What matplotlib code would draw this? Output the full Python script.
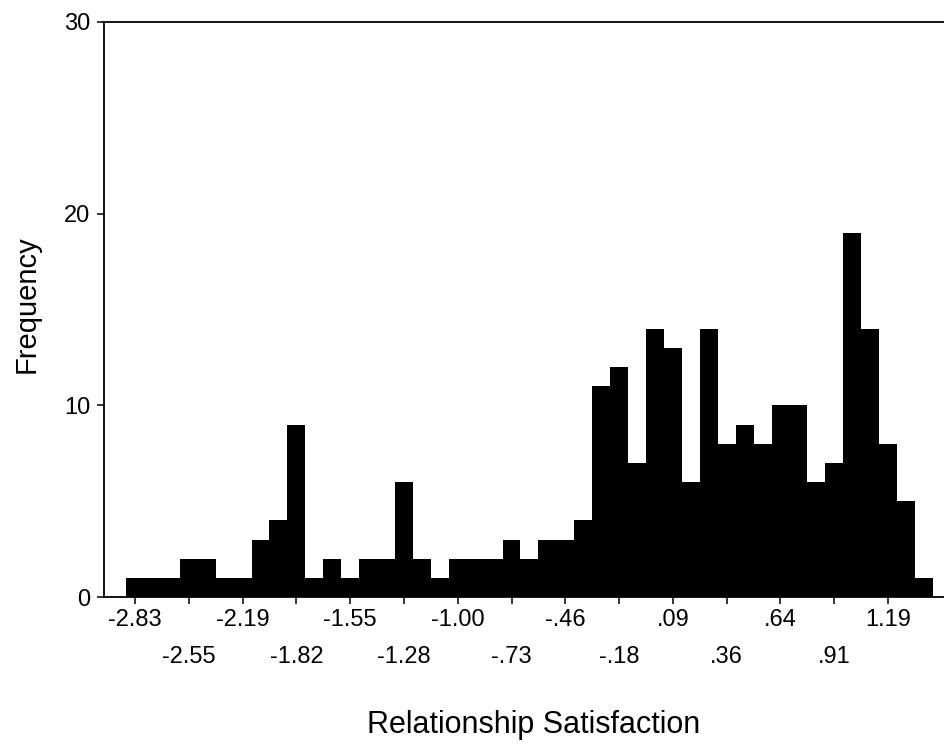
import numpy as np
import matplotlib
matplotlib.use("Agg")
import matplotlib.pyplot as plt

plt.rcParams['font.family'] = ['Liberation Sans', 'DejaVu Sans']

# Frequency of each bin (45 bins, left to right)
counts = [1, 1, 1, 2, 2, 1, 1, 3, 4, 9,
          1, 2, 1, 2, 2, 6, 2, 1, 2, 2,
          2, 3, 2, 3, 3, 4, 11, 12, 7, 14,
          13, 6, 14, 8, 9, 8, 10, 10, 6, 7,
          19, 14, 8, 5, 1]

# Category labels shown every third bin (starting at the first bin)
tick_labels = ["-2.83", "-2.55", "-2.19", "-1.82", "-1.55", "-1.28", "-1.00",
               "-.73", "-.46", "-.18", ".09", ".36", ".64", ".91", "1.19"]
tick_step = 3

y_ticks = [0, 10, 20, 30]

W, H = 945, 751
fig = plt.figure(figsize=(W / 100, H / 100), dpi=100)
left_px, right_px, top_px, bottom_px = 104.5, 945, 22, 597
ax = fig.add_axes([left_px / W, (H - bottom_px) / H,
                   (right_px - left_px) / W, (bottom_px - top_px) / H])

x = np.arange(len(counts))
ax.bar(x, counts, width=1.0, color='black', linewidth=0, align='center')

px_per_bin = 17.93
x0 = -(135 - left_px) / px_per_bin
x1 = (right_px - 135) / px_per_bin
ax.set_xlim(x0, x1)
ax.set_ylim(0, 30)

ax.spines['right'].set_visible(False)
for s in ['left', 'bottom', 'top']:
    ax.spines[s].set_linewidth(1.3)
    ax.spines[s].set_color('black')

tick_pos = np.arange(len(tick_labels)) * tick_step
ax.set_xticks(tick_pos[0::2])
ax.set_xticklabels(tick_labels[0::2])
ax.set_xticks(tick_pos[1::2], minor=True)
ax.set_xticklabels(tick_labels[1::2], minor=True)
ax.tick_params(axis='x', which='major', direction='out', length=5, width=1.1,
               labelsize=17, pad=4)
ax.tick_params(axis='x', which='minor', direction='out', length=5, width=1.1,
               labelsize=17, pad=30)

ax.set_yticks(y_ticks)
ax.set_yticklabels([str(v) for v in y_ticks])
ax.tick_params(axis='y', direction='out', length=5, width=1.1, labelsize=17, pad=5)

fig.text(534 / W, 1 - 733 / H, 'Relationship Satisfaction', ha='center',
         va='baseline', fontsize=22)
fig.text(27 / W, 1 - 304 / H, 'Frequency', ha='center', va='center',
         rotation=90, fontsize=21)

fig.savefig('out.png', dpi=100, facecolor='white')
